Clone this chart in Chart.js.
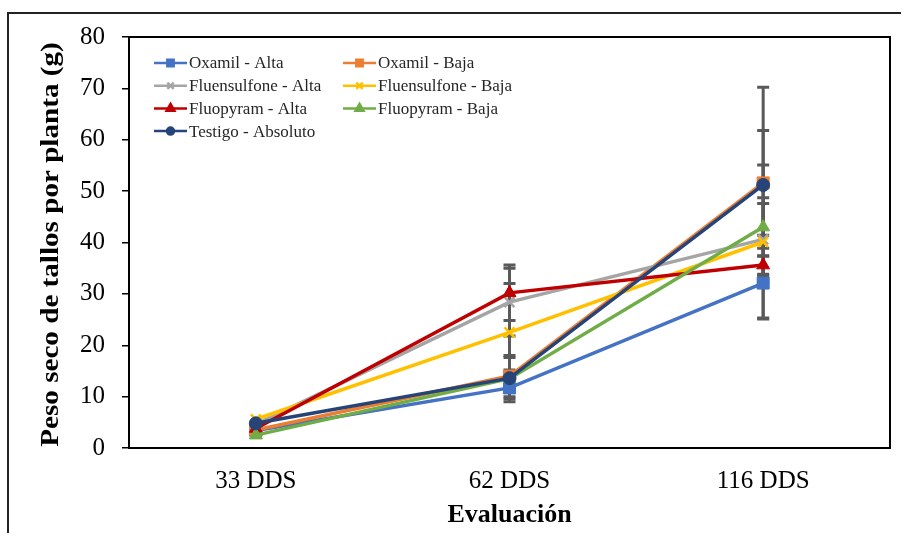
<!DOCTYPE html>
<html>
<head>
<meta charset="utf-8">
<script src="https://cdn.jsdelivr.net/npm/chart.js@4/dist/chart.umd.min.js"></script>
<style>
  body { margin: 0; background: #fff; }
  #wrap { position: relative; width: 902px; height: 533px; overflow: hidden; }
  #frame { position: absolute; left: 7px; top: 12px; width: 892px; height: 600px; border-left: 2px solid #222; border-top: 2px solid #222; }
  canvas { position: absolute; left: 0; top: 0; }
</style>
</head>
<body>
<div id="wrap">
  <div id="frame"></div>
  <canvas id="pesoChart" width="902" height="533"></canvas>
</div>
<script>
// categorías y series
const categories = ["33 DDS", "62 DDS", "116 DDS"];
const seriesNames = [
  "Oxamil - Alta", "Oxamil - Baja",
  "Fluensulfone - Alta", "Fluensulfone - Baja",
  "Fluopyram - Alta", "Fluopyram - Baja",
  "Testigo - Absoluto",
];
const oxamilAlta = [3.4, 11.7, 32.1];
const oxamilBaja = [3.5, 14.0, 51.6];
const fluensulfoneAlta = [4.6, 28.4, 40.6];
const fluensulfoneBaja = [5.6, 22.5, 40.1];
const fluopyramAlta = [3.8, 30.2, 35.6];
const fluopyramBaja = [2.5, 13.5, 43.0];
const testigoAbsoluto = [4.8, 13.6, 51.2];

// barras de error (+/-)
const errOxamilAlta = [0, 1.7, 6.8];
const errOxamilBaja = [0, 1.2, 10.2];
const errFluensulfoneAlta = [0, 6.6, 7.0];
const errFluensulfoneBaja = [0, 9.5, 15.0];
const errFluopyramAlta = [0, 5.4, 1.8];
const errFluopyramBaja = [0, 4.5, 5.7];
const errTestigo = [0, 4.0, 19.0];

const yTicks = [0, 10, 20, 30, 40, 50, 60, 70, 80];
const yTitle = "Peso seco de tallos por planta (g)";

const seriesData = [oxamilAlta, oxamilBaja, fluensulfoneAlta, fluensulfoneBaja, fluopyramAlta, fluopyramBaja, testigoAbsoluto];
const seriesErr = [errOxamilAlta, errOxamilBaja, errFluensulfoneAlta, errFluensulfoneBaja, errFluopyramAlta, errFluopyramBaja, errTestigo];
const colors = ["#4472C4", "#ED7D31", "#A5A5A5", "#FFC000", "#C00000", "#70AD47", "#264478"];
const markers = ["rect", "rect", "crossRot", "crossRot", "triangle", "triangle", "circle"];
const markerSize = [8.5, 8.5, 7, 7, 7.5, 7.5, 6.5];

const datasets = seriesNames.map((name, i) => ({
  label: name,
  data: seriesData[i],
  errors: seriesErr[i],
  borderColor: colors[i],
  backgroundColor: colors[i],
  borderWidth: 3.5,
  pointStyle: markers[i],
  pointRadius: markerSize[i],
  pointBorderWidth: markers[i] === "crossRot" ? 2.5 : 1,
  tension: 0,
  fill: false,
  order: seriesNames.length - i, // el último (Testigo) queda encima
}));

const serif = "'Liberation Serif', 'Times New Roman', serif";

// marco del área de trazado + barras de error
const errorBars = {
  id: "errorBars",
  beforeDatasetsDraw(chart) {
    const { ctx, chartArea, scales } = chart;
    ctx.save();
    ctx.strokeStyle = "#000";
    ctx.lineWidth = 2;
    ctx.strokeRect(chartArea.left, chartArea.top, chartArea.width, chartArea.height);

    ctx.strokeStyle = "#595959";
    ctx.lineWidth = 3;
    chart.data.datasets.forEach((ds) => {
      ds.data.forEach((v, i) => {
        const e = ds.errors[i];
        if (!e) return;
        const px = scales.x.getPixelForValue(i);
        const top = scales.y.getPixelForValue(v + e);
        const bot = scales.y.getPixelForValue(v - e);
        ctx.beginPath();
        ctx.moveTo(px, top);
        ctx.lineTo(px, bot);
        ctx.moveTo(px - 6, top);
        ctx.lineTo(px + 6, top);
        ctx.moveTo(px - 6, bot);
        ctx.lineTo(px + 6, bot);
        ctx.stroke();
      });
    });
    ctx.restore();
  },
};

// leyenda en dos columnas dentro del área de trazado + título del eje Y
const legendBox = {
  id: "legendBox",
  afterDraw(chart) {
    const { ctx, chartArea } = chart;
    ctx.save();
    ctx.font = "17px " + serif;
    ctx.textBaseline = "middle";
    chart.data.datasets.forEach((ds, i) => {
      const col = i % 2;
      const row = Math.floor(i / 2);
      const x0 = chartArea.left + 25 + col * 189;
      const y0 = chartArea.top + 26 + row * 22.7;
      ctx.strokeStyle = ds.borderColor;
      ctx.fillStyle = ds.backgroundColor;
      ctx.lineWidth = 2.5;
      ctx.beginPath();
      ctx.moveTo(x0, y0);
      ctx.lineTo(x0 + 33, y0);
      ctx.stroke();
      Chart.helpers.drawPoint(ctx, {
        pointStyle: ds.pointStyle,
        radius: ds.pointStyle === "circle" ? 3.5 : 4.5,
        rotation: 0,
        borderWidth: ds.pointStyle === "crossRot" ? 1.5 : 1,
      }, x0 + 16.5, y0);
      ctx.fillStyle = "#262626";
      ctx.fillText(ds.label, x0 + 35, y0 + 1);
    });

    // título Y algo estirado, como en el original
    ctx.translate(51, (chartArea.top + chartArea.bottom) / 2 + 2);
    ctx.rotate(-Math.PI / 2);
    ctx.scale(1.12, 1);
    ctx.font = "bold 26px " + serif;
    ctx.fillStyle = "#000";
    ctx.textAlign = "center";
    ctx.fillText(yTitle, 0, 0);
    ctx.restore();
  },
};

const pesoChart = document.querySelector("#pesoChart");
if (pesoChart) {
  new Chart(pesoChart, {
    type: "line",
    data: {
      labels: categories,
      datasets: datasets,
    },
    options: {
      responsive: false,
      animation: false,
      layout: {
        padding: { top: 37, right: 12, left: 0, bottom: 0 },
      },
      plugins: {
        legend: { display: false },
        tooltip: { enabled: false },
      },
      scales: {
        x: {
          offset: true,
          grid: { display: false },
          border: { display: false },
          ticks: {
            color: "#000",
            font: { family: serif, size: 25 },
            padding: 10,
          },
          title: {
            display: true,
            text: "Evaluación",
            color: "#000",
            font: { family: serif, size: 26, weight: "bold" },
            padding: { top: 0, bottom: 2 },
          },
          afterFit: (scale) => { scale.height = 85; },
        },
        y: {
          min: 0,
          max: 80,
          afterBuildTicks: (scale) => { scale.ticks = yTicks.map((v) => ({ value: v })); },
          grid: {
            drawOnChartArea: false,
            drawTicks: true,
            tickLength: 7,
            color: "#000",
            lineWidth: 1.5,
          },
          border: { display: false },
          ticks: {
            color: "#000",
            font: { family: serif, size: 25 },
            padding: 17,
          },
          afterFit: (scale) => { scale.width = 129; },
        },
      },
    },
    plugins: [errorBars, legendBox],
  });
}
</script>
</body>
</html>
